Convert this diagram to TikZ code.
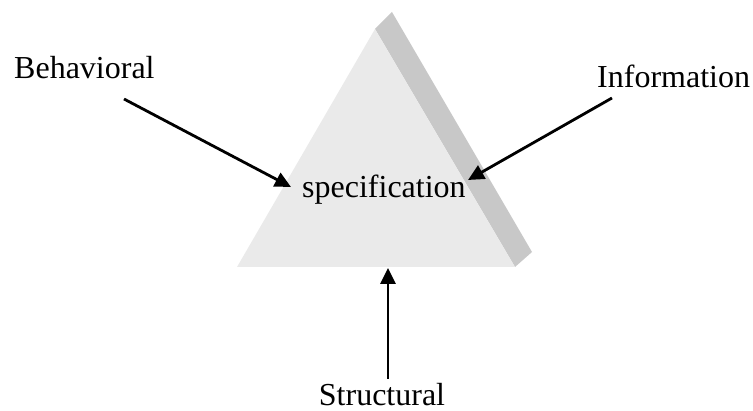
\documentclass[tikz,border=0pt]{standalone}
\usepackage{fontspec}
\setmainfont{Liberation Serif}
\usetikzlibrary{arrows.meta}
\definecolor{faceGray}{RGB}{234,234,234}
\definecolor{bandGray}{RGB}{200,200,200}
\tikzset{
  label text/.style={font=\fontsize{32}{36}\selectfont, inner sep=0pt, text=black},
  flow arrow/.style={line width=2.8pt, -{Triangle[length=16pt,width=15pt]}},
}
\begin{document}
\begin{tikzpicture}[x=1pt,y=-1pt]
\useasboundingbox (0,0) rectangle (753,411);
% pyramid
\fill[bandGray] (375,29) -- (392,12) -- (532,252) -- (515,267) -- cycle;
\fill[faceGray] (375,29) -- (515,267) -- (237,267) -- cycle;
% labels
\node[label text, anchor=base west] (beh) at (14,79) {Behavioral};
\node[label text, anchor=base west] (inf) at (597,88) {Information};
\node[label text, anchor=base west] (spec) at (302,198) {specification};
\node[label text, anchor=base] (str) at (382,406) {Structural};
% arrow ends
\coordinate (behS) at (124,99);
\coordinate (behT) at (291,187);
\coordinate (infS) at (612,98);
\coordinate (infT) at (468,180);
\coordinate (strS) at (388,379);
\coordinate (strT) at (388,268);
\draw[flow arrow] (behS) -- (behT);
\draw[flow arrow] (infS) -- (infT);
\draw[flow arrow] (strS) -- (strT);
\end{tikzpicture}
\end{document}
